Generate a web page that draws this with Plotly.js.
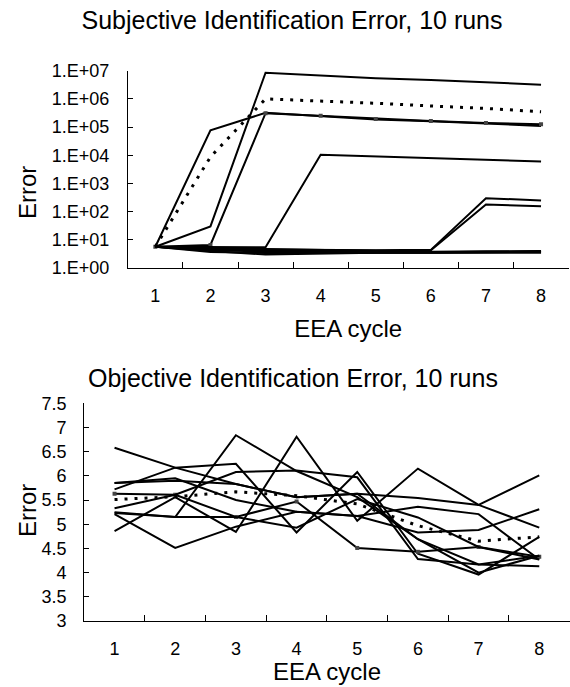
<!DOCTYPE html>
<html><head><meta charset="utf-8">
<script src="https://cdn.plot.ly/plotly-3.0.1.min.js"></script>
<style>html,body{margin:0;padding:0;background:#fff}</style>
</head><body><div id="chart" style="width:570px;height:687px"></div>
<script>
// ---- data ----
const cycles = ['1','2','3','4','5','6','7','8'];

// Subjective identification error (log scale), 10 runs + average (dotted)
const subjRun1  = [5.7, 30, 8.5e6, 6.9e6, 5.4e6, 4.7e6, 3.8e6, 3.2e6];
const subjRun2  = [5.7, 7.7e4, 3.2e5, 2.4e5, 1.85e5, 1.6e5, 1.35e5, 1.1e5];
const subjRun3  = [5.7, 6.6, 3.1e5, 2.5e5, 1.95e5, 1.65e5, 1.4e5, 1.25e5];
const subjRun4  = [5.7, 5.6, 5.4, 1.05e4, 9100, 7950, 6950, 6050];
const subjRun5  = [5.7, 4.8, 4.5, 4.3, 4.3, 4.4, 300, 250];
const subjRun6  = [5.7, 4.5, 4.2, 4.0, 4.1, 4.3, 180, 155];
const subjRun7  = [5.7, 4.0, 3.0, 3.3, 3.5, 3.5, 3.6, 3.8];
const subjRun8  = [5.7, 3.7, 3.4, 3.4, 3.5, 3.4, 3.5, 3.5];
const subjRun9  = [5.7, 4.3, 3.9, 3.7, 3.6, 3.6, 3.7, 3.9];
const subjRun10 = [5.7, 5.0, 4.7, 4.4, 4.0, 3.8, 3.9, 4.0];
const subjAvg   = [5.7, 8.7e3, 1.0e6, 8.5e5, 7.0e5, 5.6e5, 4.6e5, 3.5e5];
const subjTickVals = [1, 10, 100, 1000, 1e4, 1e5, 1e6, 1e7];
const subjTickText = ['1.E+00','1.E+01','1.E+02','1.E+03','1.E+04','1.E+05','1.E+06','1.E+07'];

// Objective identification error, 10 runs + average (dotted)
const objRun1  = [6.58, 6.17, 5.83, 5.56, 5.63, 5.54, 5.40, 4.93];
const objRun2  = [5.85, 5.95, 5.50, 5.26, 5.17, 5.36, 5.21, 4.27];
const objRun3  = [5.72, 6.17, 6.25, 4.83, 6.08, 4.39, 3.96, 4.74];
const objRun4  = [5.63, 5.61, 5.15, 5.47, 4.51, 4.43, 4.53, 4.33];
const objRun5  = [5.33, 5.61, 6.08, 6.11, 5.97, 4.28, 4.17, 4.13];
const objRun6  = [5.23, 5.15, 6.84, 6.10, 5.56, 4.69, 4.00, 4.35];
const objRun7  = [5.21, 4.51, 4.95, 5.26, 5.17, 4.83, 4.88, 5.31];
const objRun8  = [4.86, 5.56, 4.84, 6.81, 5.07, 6.15, 5.40, 6.01];
const objRun9  = [5.25, 5.15, 5.15, 4.93, 5.52, 5.14, 4.53, 4.27];
const objRun10 = [5.85, 5.90, 5.83, 5.56, 5.63, 4.69, 4.17, 4.35];
const objAvg   = [5.51, 5.57, 5.67, 5.59, 5.42, 4.97, 4.65, 4.74];
const objTickVals = [3, 3.5, 4, 4.5, 5, 5.5, 6, 6.5, 7, 7.5];
const objTickText = ['3','3.5','4','4.5','5','5.5','6','6.5','7','7.5'];

// ---- build ----
const FONT = 'Liberation Sans, Arial, sans-serif';
const subjRuns = [subjRun1, subjRun2, subjRun3, subjRun4, subjRun5, subjRun6, subjRun7, subjRun8, subjRun9, subjRun10];
const objRuns  = [objRun1, objRun2, objRun3, objRun4, objRun5, objRun6, objRun7, objRun8, objRun9, objRun10];
const traces = [];
subjRuns.forEach((r, i) => traces.push({
  x: cycles, y: r, xaxis: 'x', yaxis: 'y', name: 'Run ' + (i + 1),
  mode: i === 2 ? 'lines+markers' : 'lines',
  line: {color: '#000', width: 2},
  marker: {symbol: 'square', size: 4, color: '#444'},
  showlegend: false, hoverinfo: 'y'
}));
traces.push({x: cycles, y: subjAvg, xaxis: 'x', yaxis: 'y', name: 'Average', mode: 'lines',
  line: {color: '#000', width: 3, dash: '3px,7px'}, showlegend: false});
objRuns.forEach((r, i) => traces.push({
  x: cycles, y: r, xaxis: 'x2', yaxis: 'y2', name: 'Run ' + (i + 1),
  mode: i === 3 ? 'lines+markers' : 'lines',
  line: {color: '#000', width: 2},
  marker: {symbol: 'square', size: 4, color: '#444'},
  showlegend: false, hoverinfo: 'y'
}));
traces.push({x: cycles, y: objAvg, xaxis: 'x2', yaxis: 'y2', name: 'Average', mode: 'lines',
  line: {color: '#000', width: 3, dash: '3px,7px'}, showlegend: false});

const W = 570, H = 687;
const xAx = (d0, d1, anchor, labelStandoff, titleText, standoff) => ({
  domain: [d0 / W, d1 / W], anchor: anchor, type: 'category', range: [-0.5, 7.5],
  tickson: 'boundaries', ticks: 'inside', ticklen: 6, tickcolor: '#000', tickwidth: 1,
  showline: true, linecolor: '#000', linewidth: 1, showgrid: false, zeroline: false,
  tickfont: {family: FONT, size: 18, color: '#000'}, ticklabelstandoff: labelStandoff,
  title: {text: titleText, font: {family: FONT, size: 24, color: '#000'}, standoff: standoff},
  automargin: false, fixedrange: true
});
const layout = {
  width: W, height: H, margin: {l: 0, r: 0, t: 0, b: 0},
  paper_bgcolor: '#fff', plot_bgcolor: '#fff',
  font: {family: FONT, color: '#000'},
  title: {text: 'Subjective Identification Error, 10 runs', font: {family: FONT, size: 25, color: '#000'},
    x: 292 / W, xanchor: 'center', xref: 'paper', y: 1 - 20 / H, yanchor: 'middle', yref: 'container'},
  xaxis: xAx(127.8, 568.6, 'y', 11, 'EEA cycle', 15),
  yaxis: {domain: [1 - 268 / H, 1 - 70.7 / H], anchor: 'x', type: 'log', range: [0, 7],
    tickvals: subjTickVals, ticktext: subjTickText, ticks: 'inside', ticklen: 5, tickcolor: '#000',
    showline: true, linecolor: '#000', linewidth: 1, showgrid: false, zeroline: false,
    tickfont: {family: FONT, size: 18, color: '#000'}, ticklabelstandoff: 14, automargin: false, fixedrange: true},
  xaxis2: xAx(84.2, 569.6, 'y2', 11, '', 0),
  yaxis2: {domain: [1 - 621 / H, 1 - 403.3 / H], anchor: 'x2', range: [3, 7.5],
    tickvals: objTickVals, ticktext: objTickText, ticks: 'inside', ticklen: 5, tickcolor: '#000',
    showline: true, linecolor: '#000', linewidth: 1, showgrid: false, zeroline: false,
    tickfont: {family: FONT, size: 18, color: '#000'}, ticklabelstandoff: 13, automargin: false, fixedrange: true},
  annotations: [
    {text: 'Objective Identification Error, 10 runs', xref: 'paper', yref: 'paper', x: 292.7 / W, y: 1 - 378 / H,
      xanchor: 'center', yanchor: 'middle', showarrow: false, font: {family: FONT, size: 25, color: '#000'}},
    {text: 'EEA cycle', xref: 'paper', yref: 'paper', x: 326.9 / W, y: 0,
      xanchor: 'center', yanchor: 'bottom', showarrow: false, font: {family: FONT, size: 24, color: '#000'}},
    {text: 'Error', xref: 'paper', yref: 'paper', x: 27 / W, y: 1 - 193 / H, textangle: -90,
      xanchor: 'center', yanchor: 'middle', showarrow: false, font: {family: FONT, size: 24, color: '#000'}},
    {text: 'Error', xref: 'paper', yref: 'paper', x: 27 / W, y: 1 - 511 / H, textangle: -90,
      xanchor: 'center', yanchor: 'middle', showarrow: false, font: {family: FONT, size: 24, color: '#000'}}
  ]
};
Plotly.newPlot('chart', traces, layout, {displayModeBar: false, staticPlot: true});
</script></body></html>
